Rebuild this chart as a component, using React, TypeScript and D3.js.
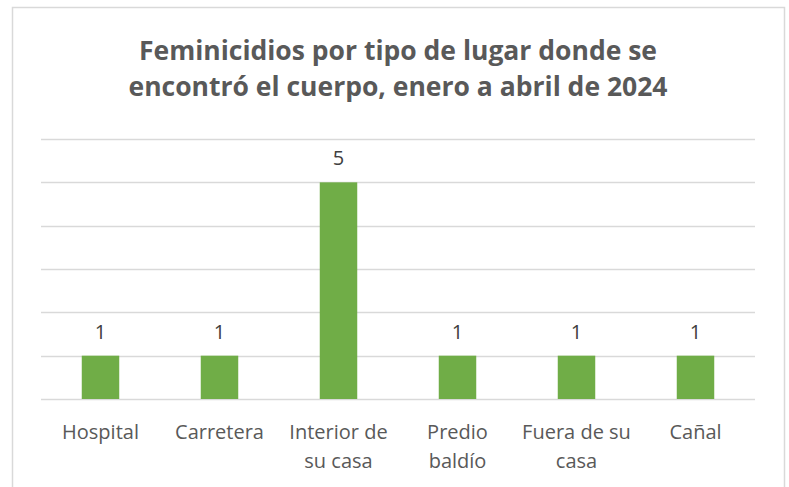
import { useEffect, useRef } from "react";
import * as d3 from "d3";

const CATEGORIES = ["Hospital", "Carretera", "Interior de su casa", "Predio baldío", "Fuera de su casa", "Cañal"];
// wrapped label lines, as in the original
const LABEL_LINES = [["Hospital"], ["Carretera"], ["Interior de", "su casa"], ["Predio", "baldío"], ["Fuera de su", "casa"], ["Cañal"]];
const VALUES = [1, 1, 5, 1, 1, 1];
const Y_TICKS = [0, 1, 2, 3, 4, 5, 6];
const TITLE = ["Feminicidios por tipo de lugar donde se", "encontró el cuerpo, enero a abril de 2024"];

export default function App() {
  const svgRef = useRef<SVGSVGElement | null>(null);

  useEffect(() => {
    const width = 789;
    const height = 487;
    const svg = d3.select(svgRef.current);
    svg.selectAll("*").remove();

    const font = "'Open Sans', sans-serif";
    const textColor = "#595959";

    // chart frame
    svg.append("rect")
      .attr("x", 12.5).attr("y", 7.5)
      .attr("width", 772).attr("height", 500)
      .attr("fill", "white").attr("stroke", "#d9d9d9").attr("stroke-width", 1.5);

    // title
    const title = svg.append("text")
      .attr("text-anchor", "middle")
      .attr("font-family", font).attr("font-weight", "bold")
      .attr("font-size", "26.5px").attr("fill", textColor);
    TITLE.forEach((t, i) => {
      title.append("tspan").attr("x", 398).attr("y", 60 + i * 36).text(t);
    });

    const margin = { top: 139, left: 41, right: 34, bottom: 88 };
    const innerW = width - margin.left - margin.right;
    const innerH = height - margin.top - margin.bottom;

    const x = d3.scaleBand<string>().domain(CATEGORIES).range([0, innerW]).padding(0);
    const y = d3.scaleLinear().domain([0, 6]).range([innerH, 0]);
    const barW = x.bandwidth() * 0.315;

    const g = svg.append("g").attr("transform", `translate(${margin.left},${margin.top})`);

    // gridlines
    g.selectAll("line.grid")
      .data(Y_TICKS)
      .enter().append("line")
      .attr("class", "grid")
      .attr("x1", 0).attr("x2", innerW)
      .attr("y1", (d) => Math.round(y(d)) + 0.5)
      .attr("y2", (d) => Math.round(y(d)) + 0.5)
      .attr("stroke", "#d9d9d9").attr("stroke-width", 1.5);

    // bars
    g.selectAll("rect.bar")
      .data(VALUES)
      .enter().append("rect")
      .attr("class", "bar")
      .attr("x", (d, i) => x(CATEGORIES[i])! + x.bandwidth() / 2 - barW / 2)
      .attr("y", (d) => y(d))
      .attr("width", barW)
      .attr("height", (d) => y(0) - y(d))
      .attr("fill", "#70ad47");

    // value labels
    g.selectAll("text.val")
      .data(VALUES)
      .enter().append("text")
      .attr("class", "val")
      .attr("x", (d, i) => x(CATEGORIES[i])! + x.bandwidth() / 2)
      .attr("y", (d) => y(d) - 17)
      .attr("text-anchor", "middle")
      .attr("font-family", font).attr("font-size", "20px")
      .attr("fill", "#404040")
      .text((d) => d);

    // category labels
    CATEGORIES.forEach((c, i) => {
      const t = g.append("text")
        .attr("text-anchor", "middle")
        .attr("font-family", font).attr("font-size", "20px")
        .attr("fill", textColor);
      LABEL_LINES[i].forEach((line, j) => {
        t.append("tspan")
          .attr("x", x(c)! + x.bandwidth() / 2)
          .attr("y", innerH + 40 + j * 29)
          .text(line);
      });
    });
  }, []);

  return <svg ref={svgRef} width={789} height={487} style={{ position: "absolute", left: 0, top: 0 }} />;
}
